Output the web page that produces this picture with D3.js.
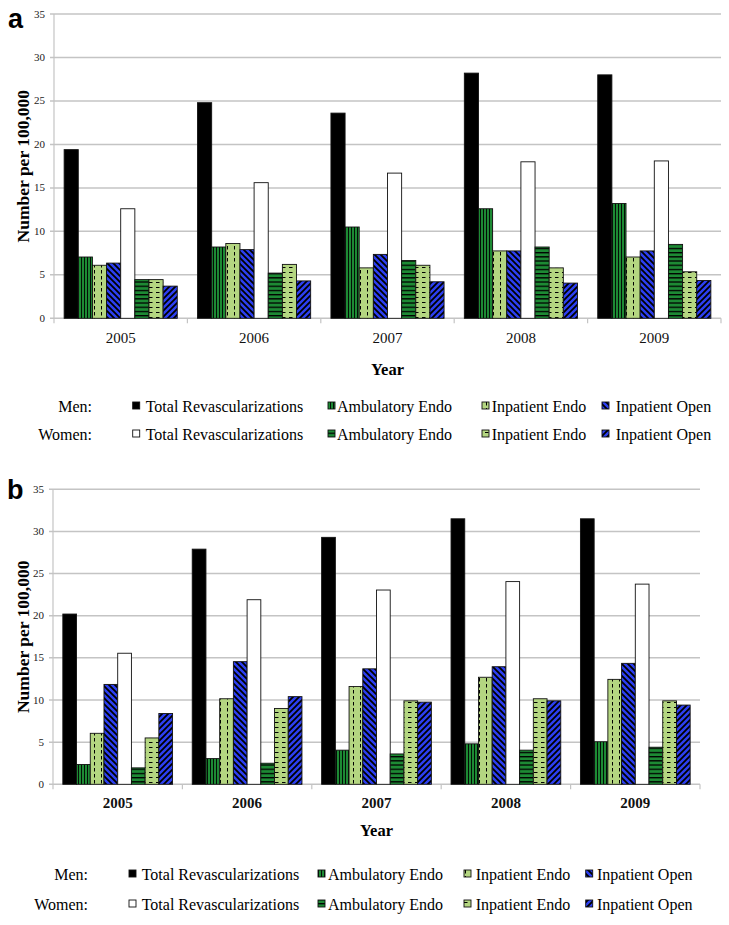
<!DOCTYPE html>
<html>
<head>
<meta charset="utf-8">
<script src="https://cdn.jsdelivr.net/npm/d3@7/dist/d3.min.js"></script>
<style>
html,body{margin:0;padding:0;background:#fff;}
svg{display:block;}
</style>
</head>
<body>
<svg id="chart" width="729" height="925"></svg>
<script>
// ---------- DATA ----------
const years = ["2005", "2006", "2007", "2008", "2009"];
const seriesLabels = ["Total Revascularizations", "Ambulatory Endo", "Inpatient Endo", "Inpatient Open"];
const yTicks = [0, 5, 10, 15, 20, 25, 30, 35];

// Panel a
const aMenTotal     = [19.4, 24.8, 23.6, 28.2, 28.0];
const aMenAmb       = [7.05, 8.2, 10.5, 12.6, 13.2];
const aMenInEndo    = [6.1, 8.6, 5.8, 7.75, 7.05];
const aMenInOpen    = [6.35, 7.9, 7.35, 7.75, 7.75];
const aWomenTotal   = [12.6, 15.6, 16.7, 18.0, 18.1];
const aWomenAmb     = [4.45, 5.2, 6.65, 8.2, 8.5];
const aWomenInEndo  = [4.45, 6.2, 6.1, 5.8, 5.35];
const aWomenInOpen  = [3.7, 4.3, 4.2, 4.05, 4.35];

// Panel b
const bMenTotal     = [20.2, 27.9, 29.3, 31.5, 31.5];
const bMenAmb       = [2.35, 3.05, 4.05, 4.8, 5.05];
const bMenInEndo    = [6.05, 10.15, 11.6, 12.7, 12.45];
const bMenInOpen    = [11.85, 14.55, 13.7, 13.95, 14.35];
const bWomenTotal   = [15.55, 21.9, 23.05, 24.05, 23.75];
const bWomenAmb     = [1.95, 2.5, 3.6, 4.05, 4.4];
const bWomenInEndo  = [5.5, 9.0, 9.9, 10.15, 9.9];
const bWomenInOpen  = [8.4, 10.4, 9.75, 9.9, 9.4];

// ---------- STYLE ----------
const GREEN = "#1d8a34", LIME = "#b4d681", BLUE = "#2c3ff2";
const svg = d3.select("#chart");
const defs = svg.append("defs");

function pat(id, w, h, bg, draw) {
  const p = defs.append("pattern").attr("id", id).attr("patternUnits", "userSpaceOnUse")
    .attr("width", w).attr("height", h);
  p.append("rect").attr("width", w).attr("height", h).attr("fill", bg);
  draw(p);
}
pat("mAmb", 3, 4, GREEN, p => p.append("rect").attr("x", 0).attr("y", 0).attr("width", 0.9).attr("height", 4).attr("fill", "#000"));
pat("wAmb", 4, 4.2, GREEN, p => p.append("rect").attr("x", 0).attr("y", 0).attr("width", 4).attr("height", 1.3).attr("fill", "#000"));
pat("mInE", 7, 6, LIME, p => p.append("rect").attr("x", 3).attr("y", 0).attr("width", 1).attr("height", 3.5).attr("fill", "#000"));
pat("wInE", 7, 5, LIME, p => p.append("rect").attr("x", 2).attr("y", 2).attr("width", 3.5).attr("height", 1).attr("fill", "#000"));
pat("mInO", 6, 6, BLUE, p => {
  p.append("path").attr("d", "M-1,-1 L7,7 M-1,5 L1,7 M5,-1 L7,1").attr("stroke", "#000").attr("stroke-width", 1.8);
});
pat("wInO", 6, 6, BLUE, p => {
  p.append("path").attr("d", "M-1,7 L7,-1 M-1,1 L1,-1 M5,7 L7,5").attr("stroke", "#000").attr("stroke-width", 1.8);
});

const fills = ["#000", "url(#mAmb)", "url(#mInE)", "url(#mInO)", "#fff", "url(#wAmb)", "url(#wInE)", "url(#wInO)"];

function drawPanel(cfg) {
  const series = cfg.series;
  const g = svg.append("g");
  const x = d3.scaleBand().domain(years).range([cfg.left, cfg.right]).padding(0);
  const y = d3.scaleLinear().domain([0, 35]).range([cfg.bottom, cfg.top]);
  const inner = d3.scaleBand().domain(d3.range(8))
    .range([x.bandwidth() * 0.076, x.bandwidth() * 0.924]).padding(0);

  // gridlines
  g.append("g").selectAll("line").data(yTicks).join("line")
    .attr("x1", cfg.left - 4).attr("x2", cfg.right)
    .attr("y1", d => y(d)).attr("y2", d => y(d))
    .attr("stroke", "#c4c4c4").attr("stroke-width", 1.5);
  // y axis line
  g.append("line").attr("x1", cfg.left).attr("x2", cfg.left)
    .attr("y1", y(35)).attr("y2", y(0)).attr("stroke", "#c4c4c4").attr("stroke-width", 1.2);

  // y tick labels
  g.append("g").selectAll("text").data(yTicks).join("text")
    .attr("x", cfg.left - 9).attr("y", d => y(d) + 3.5)
    .attr("text-anchor", "end").attr("font-family", "Liberation Serif, Times New Roman, serif")
    .attr("font-size", 11).attr("fill", "#222").text(d => d);

  // x tick marks at category boundaries
  const bounds = years.map(d => x(d)).concat([cfg.right]);
  g.append("g").selectAll("line").data(bounds).join("line")
    .attr("x1", d => d).attr("x2", d => d)
    .attr("y1", y(0)).attr("y2", y(0) + 5)
    .attr("stroke", "#c4c4c4").attr("stroke-width", 1.2);

  // bars
  const bars = [];
  years.forEach((yr, i) => {
    series.forEach((s, k) => bars.push({ yr, k, v: s[i] }));
  });
  g.append("g").selectAll("rect").data(bars).join("rect")
    .attr("x", d => x(d.yr) + inner(d.k))
    .attr("width", inner.bandwidth())
    .attr("y", d => y(d.v))
    .attr("height", d => y(0) - y(d.v))
    .attr("fill", d => fills[d.k])
    .attr("stroke", "#111").attr("stroke-width", 0.9);

  // x labels
  g.append("g").selectAll("text").data(years).join("text")
    .attr("x", d => x(d) + x.bandwidth() / 2).attr("y", cfg.xLabelY)
    .attr("text-anchor", "middle").attr("font-family", "Liberation Serif, Times New Roman, serif")
    .attr("font-size", 15).attr("font-weight", cfg.xBold ? "bold" : "normal").attr("fill", "#111").text(d => d);

  // axis titles
  g.append("text").attr("x", (cfg.left + cfg.right) / 2).attr("y", cfg.yearY)
    .attr("text-anchor", "middle").attr("font-family", "Liberation Serif, Times New Roman, serif")
    .attr("font-size", 16.5).attr("font-weight", "bold").text("Year");
  g.append("text")
    .attr("transform", `translate(${cfg.yTitleX},${(y(0) + y(35)) / 2}) rotate(-90)`)
    .attr("text-anchor", "middle").attr("font-family", "Liberation Serif, Times New Roman, serif")
    .attr("font-size", 17.5).attr("font-weight", "bold").text("Number per 100,000");

  // panel letter
  g.append("text").attr("x", cfg.letterX).attr("y", cfg.letterY)
    .attr("font-family", "Liberation Sans, Arial, sans-serif").attr("font-weight", "bold")
    .attr("font-size", 27).text(cfg.letter);

  // legend
  const rows = [{ name: "Men:", y: cfg.legY[0], off: 0 }, { name: "Women:", y: cfg.legY[1], off: 4 }];
  rows.forEach(r => {
    const lg = g.append("g");
    lg.append("text").attr("x", cfg.legLabelX).attr("y", r.y).attr("text-anchor", "end")
      .attr("font-family", "Liberation Serif, Times New Roman, serif").attr("font-size", 16).text(r.name);
    seriesLabels.forEach((lab, j) => {
      lg.append("rect").attr("x", cfg.swX[j]).attr("y", r.y - 10).attr("width", 7).attr("height", 7)
        .attr("fill", fills[r.off + j]).attr("stroke", "#111").attr("stroke-width", 0.9);
      lg.append("text").attr("x", cfg.txX[j]).attr("y", r.y)
        .attr("font-family", "Liberation Serif, Times New Roman, serif").attr("font-size", 16).text(lab);
    });
  });
}

drawPanel({
  letter: "a", letterX: 8, letterY: 28,
  series: [aMenTotal, aMenAmb, aMenInEndo, aMenInOpen, aWomenTotal, aWomenAmb, aWomenInEndo, aWomenInOpen],
  left: 54, right: 721, top: 14, bottom: 318.3,
  xLabelY: 343, xBold: false, yearY: 375, yTitleX: 29,
  legLabelX: 92, legY: [412, 440],
  swX: [132.7, 328, 482, 602], txX: [145.7, 337, 491.7, 615.7]
});

drawPanel({
  letter: "b", letterX: 7, letterY: 499,
  series: [bMenTotal, bMenAmb, bMenInEndo, bMenInOpen, bWomenTotal, bWomenAmb, bWomenInEndo, bWomenInOpen],
  left: 53, right: 700, top: 489.3, bottom: 784.3,
  xLabelY: 808, xBold: true, yearY: 836, yTitleX: 29,
  legLabelX: 88, legY: [880, 910],
  swX: [129, 318, 464, 585.7], txX: [141.7, 328, 475.7, 597]
});
</script>
</body>
</html>
